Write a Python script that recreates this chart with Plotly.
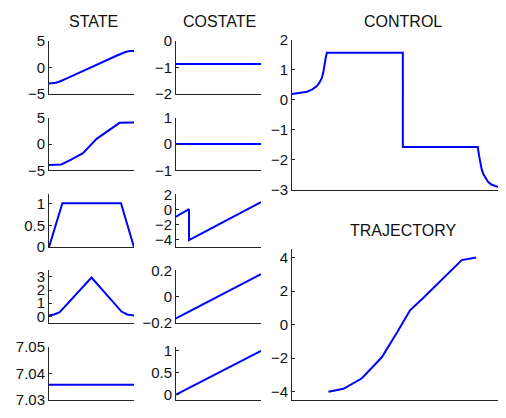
import plotly.graph_objects as go

W, H = 506, 418
OFF = 8  # page body margin offset

# ---- data ----
t_s1 = [0, 0.04, 0.08, 0.12, 0.16, 0.21, 0.8, 0.85, 0.9, 0.95, 1.0]
state1 = [-3.05, -3.0, -2.9, -2.72, -2.45, -2.08, 2.25, 2.62, 2.92, 3.08, 3.12]

t_s2 = [0, 0.07, 0.146, 0.26, 0.4, 0.56, 0.83, 1.0]
state2 = [-3.96, -3.95, -3.85, -2.94, -1.73, 1.0, 4.03, 4.1]

t_s3 = [0, 0.157, 0.847, 1.0]
state3 = [0, 1.0, 1.0, 0]

t_s4 = [0, 0.06, 0.126, 0.5, 0.853, 0.92, 1.0]
state4 = [0.07, 0.15, 0.33, 2.95, 0.37, 0.15, 0.07]

t_s5 = [0, 1.0]
state5 = [7.0357, 7.0357]

t_c1 = [0, 1.0]
costate1 = [-0.87, -0.87]

t_c2 = [0, 1.0]
costate2 = [0.0, 0.0]

t_c3 = [0, 0.153, 0.153, 1.0]
costate3 = [-0.95, 0.05, -4.05, 1.0]

t_c4 = [0, 1.0]
costate4 = [-0.165, 0.17]

t_c5 = [0, 1.0]
costate5 = [0.0, 1.0]

t_u = [0, 0.035, 0.07, 0.095, 0.116, 0.128, 0.139, 0.146, 0.151, 0.157, 0.163,
       0.518, 0.518,
       0.868, 0.874, 0.879, 0.886, 0.894, 0.905, 0.917, 0.932, 0.949, 0.975, 1.0]
control = [0.19, 0.22, 0.27, 0.35, 0.46, 0.57, 0.72, 0.9, 1.15, 1.38, 1.5708,
           1.5708, -1.5708,
           -1.5708, -1.85, -2.1, -2.3, -2.47, -2.62, -2.74, -2.82, -2.87, -2.91, -2.93]

traj_x = [-3.05, -2.42, -1.65, -0.82, -0.19, 0.36, 0.92, 2.52, 3.12]
traj_y = [-4.0, -3.83, -3.2, -1.95, -0.49, 0.85, 1.6, 3.85, 4.0]

# ticks / ranges
yt = {
    "s1": ([-5, 0, 5], [-5, 5]),
    "s2": ([-5, 0, 5], [-5, 5]),
    "s3": ([0, 0.5, 1], [0, 1.2]),
    "s4": ([0, 1, 2, 3], [-0.5, 3.5]),
    "s5": ([7.03, 7.04, 7.05], [7.03, 7.05]),
    "c1": ([-2, -1, 0], [-2, 0]),
    "c2": ([-1, 0, 1], [-1, 1]),
    "c3": ([-4, -2, 0, 2], [-5, 2]),
    "c4": ([-0.2, 0, 0.2], [-0.2, 0.2]),
    "c5": ([0, 0.5, 1], [-0.12, 1.09]),
    "u": ([-3, -2, -1, 0, 1, 2], [-3, 2]),
    "tr": ([-4, -2, 0, 2, 4], [-4.5, 4.5]),
}
ytext = {
    "s5": ["7.03", "7.04", "7.05"],
    "c4": ["−0.2", "0", "0.2"],
    "s3": ["0", "0.5", "1"],
    "c5": ["0", "0.5", "1"],
}

FONT = "Liberation Sans, Arial, Helvetica, sans-serif"

cols = {1: (49, 134), 2: (176, 261)}
rows = [(33, 88), (113, 168), (193, 248), (272, 327), (352, 407)]
RIGHT = 513.7

panels = []
for i, (tt, vv) in enumerate([(t_s1, state1), (t_s2, state2), (t_s3, state3), (t_s4, state4), (t_s5, state5)]):
    panels.append((f"s{i+1}", tt, vv, cols[1], rows[i], [0, 1]))
for i, (tt, vv) in enumerate([(t_c1, costate1), (t_c2, costate2), (t_c3, costate3), (t_c4, costate4), (t_c5, costate5)]):
    panels.append((f"c{i+1}", tt, vv, cols[2], rows[i], [0, 1]))
panels.append(("u", t_u, control, (292, RIGHT), (31.7, 188.3), [0, (RIGHT - 292) / 214.0]))
panels.append(("tr", traj_x, traj_y, (292, RIGHT), (250, 407.3), [-4.57, -4.57 + (RIGHT - 292) / 23.94]))


def fx(px):
    return (px - OFF) / W


def fy(py):
    return 1 - (py - OFF) / H


fig = go.Figure()
layout = {}
for k, (key, xs, ys, (x0, x1), (y0, y1), xr) in enumerate(panels):
    n = k + 1
    sfx = "" if n == 1 else str(n)
    fig.add_trace(go.Scatter(x=xs, y=ys, mode="lines",
                             line=dict(color="#0000ff", width=2),
                             xaxis="x" + sfx, yaxis="y" + sfx,
                             showlegend=False, hoverinfo="skip"))
    tv, rng = yt[key]
    span = rng[1] - rng[0]
    eps = span * 1e-4
    ya = dict(domain=[fy(y1), fy(y0)], range=[rng[0] - eps, rng[1] + eps],
              anchor="x" + sfx, tickmode="array", tickvals=tv,
              showline=True, linecolor="#262626", linewidth=1,
              ticks="inside", ticklen=3, tickcolor="#262626",
              showgrid=False, zeroline=False,
              tickfont=dict(family=FONT, size=15, color="#111"),
              fixedrange=True)
    if key in ytext:
        ya["ticktext"] = ytext[key]
    xa = dict(domain=[fx(x0), min(fx(x1), 1.0)], range=xr, anchor="y" + sfx,
              showline=True, linecolor="#262626", linewidth=1,
              showticklabels=False, ticks="", showgrid=False, zeroline=False,
              fixedrange=True)
    layout["xaxis" + sfx] = xa
    layout["yaxis" + sfx] = ya

titles = [("STATE", 93, 12.8), ("COSTATE", 219.7, 12.8),
          ("CONTROL", 402.5, 12.8), ("TRAJECTORY", 403, 230.5)]
annotations = [dict(text=t, x=fx(x), y=fy(y), xref="paper", yref="paper",
                    xanchor="center", yanchor="middle", showarrow=False,
                    font=dict(family=FONT, size=16, color="#111"))
               for t, x, y in titles]

fig.update_layout(width=W, height=H, margin=dict(l=0, r=0, t=0, b=0),
                  paper_bgcolor="white", plot_bgcolor="white",
                  annotations=annotations, **layout)
fig.write_html("out.html", config={"displayModeBar": False})
